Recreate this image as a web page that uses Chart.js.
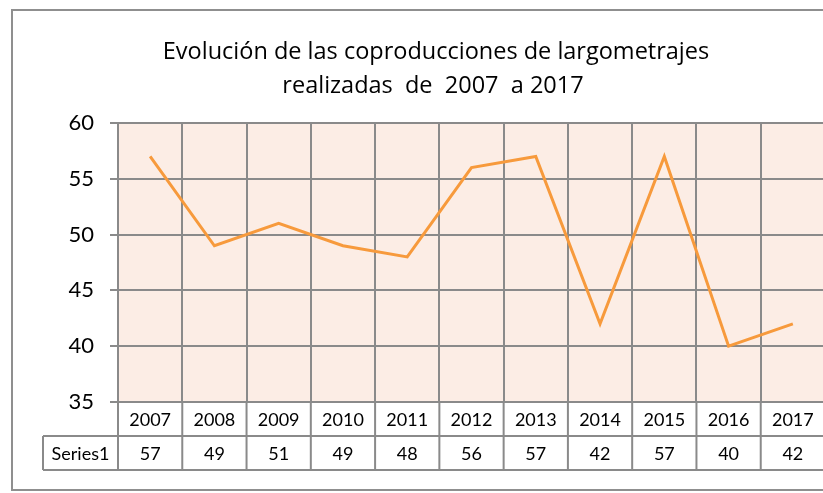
<!DOCTYPE html>
<html>
<head>
<meta charset="utf-8">
<script src="https://cdn.jsdelivr.net/npm/chart.js@4"></script>
<style>
    html, body { margin: 0; padding: 0; background: #ffffff; overflow: hidden; }
    #wrap { position: relative; width: 860px; height: 493px; }
</style>
</head>
<body>
<div id="wrap"><canvas id="chart" width="860" height="493"></canvas></div>
<script>
// Datos del gráfico
const years = ['2007', '2008', '2009', '2010', '2011', '2012', '2013', '2014', '2015', '2016', '2017'];
const series1 = [57, 49, 51, 49, 48, 56, 57, 42, 57, 40, 42];
const seriesName = 'Series1';
const yTicks = [35, 40, 45, 50, 55, 60];
const titleLines = ['Evolución de las coproducciones de largometrajes', 'realizadas  de  2007  a 2017'];

const FONT = 'Lato, "Open Sans", sans-serif';
const GRID = '#8a8a8a';

// Fondo, marco exterior y título
const framePlugin = {
    id: 'frame',
    beforeDraw(chart) {
        const ctx = chart.ctx;
        const a = chart.chartArea;
        ctx.save();
        ctx.fillStyle = '#ffffff';
        ctx.fillRect(0, 0, chart.width, chart.height);
        // marco exterior
        ctx.strokeStyle = '#8f8f8f';
        ctx.lineWidth = 2;
        ctx.beginPath();
        ctx.moveTo(900, 10);
        ctx.lineTo(12, 10);
        ctx.lineTo(12, 490);
        ctx.lineTo(900, 490);
        ctx.stroke();
        // área de trazado
        ctx.fillStyle = '#fcede5';
        ctx.fillRect(a.left, a.top, a.right - a.left, a.bottom - a.top);
        // título
        ctx.fillStyle = '#000000';
        ctx.font = '23.5px "Open Sans", sans-serif';
        ctx.textAlign = 'center';
        ctx.textBaseline = 'alphabetic';
        ctx.fillText(titleLines[0], 436, 59);
        ctx.fillText(titleLines[1], 433, 93);
        ctx.restore();
    }
};

// Tabla de datos debajo del gráfico
const tablePlugin = {
    id: 'dataTable',
    afterDraw(chart) {
        const ctx = chart.ctx;
        const x = chart.scales.x;
        const a = chart.chartArea;
        const half = (x.getPixelForValue(1) - x.getPixelForValue(0)) / 2;
        const row1 = a.bottom, row2 = a.bottom + 34, row3 = a.bottom + 68;
        const labelLeft = 43;
        ctx.save();
        ctx.strokeStyle = GRID;
        ctx.lineWidth = 2;
        ctx.beginPath();
        // líneas horizontales
        ctx.moveTo(a.left, row1); ctx.lineTo(a.right, row1);
        ctx.moveTo(labelLeft, row2); ctx.lineTo(a.right, row2);
        ctx.moveTo(labelLeft, row3); ctx.lineTo(a.right, row3);
        // verticales
        ctx.moveTo(labelLeft, row2); ctx.lineTo(labelLeft, row3);
        ctx.moveTo(a.left, row1); ctx.lineTo(a.left, row3);
        years.forEach((y, i) => {
            const r = x.getPixelForValue(i) + half;
            ctx.moveTo(r, row1); ctx.lineTo(r, row3);
        });
        ctx.stroke();

        ctx.fillStyle = '#000000';
        ctx.font = '18px ' + FONT;
        ctx.textAlign = 'center';
        ctx.textBaseline = 'middle';
        years.forEach((y, i) => {
            const cx = x.getPixelForValue(i);
            ctx.fillText(y, cx, (row1 + row2) / 2 + 1);
            ctx.fillText(String(series1[i]), cx, (row2 + row3) / 2 + 1);
        });
        ctx.fillText(seriesName, (labelLeft + a.left) / 2, (row2 + row3) / 2 + 1);
        ctx.restore();
    }
};

new Chart(document.getElementById('chart').getContext('2d'), {
    type: 'line',
    data: {
        labels: years,
        datasets: [{
            label: seriesName,
            data: series1,
            borderColor: '#f79a3c',
            borderWidth: 3,
            pointRadius: 0,
            tension: 0,
            fill: false
        }]
    },
    options: {
        responsive: false,
        animation: false,
        layout: { padding: { left: 0, top: 123, right: 35, bottom: 91 } },
        plugins: {
            legend: { display: false },
            tooltip: { enabled: false },
            title: { display: false }
        },
        scales: {
            x: {
                offset: true,
                grid: { offset: true, color: GRID, lineWidth: 2, drawTicks: false },
                border: { color: GRID, width: 2 },
                ticks: { display: false },
                afterFit(s) { s.height = 0; }
            },
            y: {
                min: 35,
                max: 60,
                afterBuildTicks(s) { s.ticks = yTicks.map(v => ({ value: v })); },
                grid: { color: GRID, lineWidth: 2, tickLength: 8 },
                border: { color: GRID, width: 2 },
                ticks: {
                    color: '#000000',
                    font: { family: FONT, size: 22 },
                    padding: 16
                },
                afterFit(s) { s.width = 118; }
            }
        }
    },
    plugins: [framePlugin, tablePlugin]
});
</script>
</body>
</html>
